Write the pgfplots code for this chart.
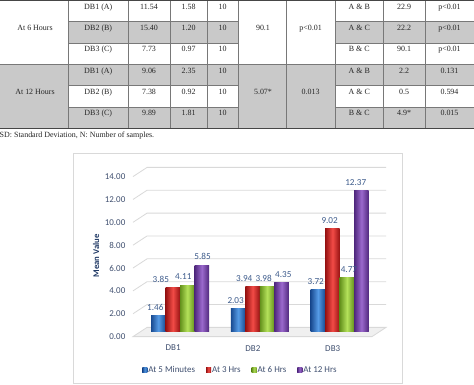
\documentclass[border=0pt]{standalone}
\usepackage{fontspec}
\setmainfont{Liberation Serif}
\newfontfamily\carlito{Carlito}
\usepackage{pgfplots}
\pgfplotsset{compat=1.18}
\definecolor{tgray}{RGB}{201,201,201}
\definecolor{tline}{RGB}{120,120,120}
\definecolor{tdark}{RGB}{70,70,70}
\definecolor{lblc}{RGB}{64,80,112}
\definecolor{datac}{RGB}{62,92,140}
\definecolor{titc}{RGB}{31,56,100}
\definecolor{gridc}{RGB}{217,217,217}
\definecolor{floorc}{RGB}{240,240,240}
\definecolor{bD}{RGB}{25,75,145}\definecolor{bL}{RGB}{85,155,230}\definecolor{bM}{RGB}{46,117,200}
\definecolor{rD}{RGB}{150,18,18}\definecolor{rL}{RGB}{242,75,70}\definecolor{rM}{RGB}{220,45,42}
\definecolor{gD}{RGB}{100,145,28}\definecolor{gL}{RGB}{180,225,90}\definecolor{gM}{RGB}{150,200,60}
\definecolor{pD}{RGB}{80,40,125}\definecolor{pL}{RGB}{155,105,205}\definecolor{pM}{RGB}{125,75,175}
\pgfplotsset{
  bS/.style={draw=none, fill=bM, left color=bD, right color=bD, middle color=bL, bar shift=-21.75bp},
  rS/.style={draw=none, fill=rM, left color=rD, right color=rD, middle color=rL, bar shift=-7.25bp},
  gS/.style={draw=none, fill=gM, left color=gD, right color=gD, middle color=gL, bar shift=7.25bp},
  pS/.style={draw=none, fill=pM, left color=pD, right color=pD, middle color=pL, bar shift=21.75bp},
  lx/.style={every node near coord/.append style={xshift=#1}},
}
\begin{document}
\begin{tikzpicture}
\path[use as bounding box, fill=white] (0,0) rectangle (474bp,385bp);
% ---------------- table ----------------
\begin{scope}[shift={(0bp,385bp)}, x=1bp, y=-1bp,
  cell/.style={inner sep=0pt, text height=5.3bp, text depth=0pt, anchor=center, font=\fontsize{8}{9}\selectfont, text=black!85}]
\fill[tgray] (0,64.5) rectangle (68.3,128.4);
\foreach \a/\b in {21.9/43.2, 64.5/85.8, 107.1/128.4}{
  \fill[tgray] (68.3,\a) rectangle (238,\b);
  \fill[tgray] (335,\a) rectangle (474,\b);
}
\fill[tgray] (238,64.5) rectangle (335,128.4);
\foreach \yy in {21.9,43.2,85.8,107.1}{
  \draw[tline, line width=0.9bp] (68.3,\yy) -- (238,\yy);
  \draw[tline, line width=0.9bp] (335,\yy) -- (474,\yy);
}
\draw[tline, line width=1.1bp] (0,64.5) -- (474,64.5);
\foreach \xx in {68.3,128.3,170,207.3,238,286.3,335,383.3,425}{
  \draw[tline, line width=0.9bp] (\xx,0.5) -- (\xx,128.4);
}
\draw[tdark, line width=1.4bp] (0,0.7) -- (474,0.7);
\draw[tdark, line width=1.1bp] (0,128.4) -- (474,128.4);
\foreach \yy/\a/\b/\c/\d/\e/\f/\g in {
 6.6/DB1 (A)/11.54/1.58/10/A \& B/22.9/p<0.01,
 27.9/DB2 (B)/15.40/1.20/10/A \& C/22.2/p<0.01,
 49.2/DB3 (C)/7.73/0.97/10/B \& C/90.1/p<0.01,
 70.5/DB1 (A)/9.06/2.35/10/A \& B/2.2/0.131,
 91.8/DB2 (B)/7.38/0.92/10/A \& C/0.5/0.594,
 113.1/DB3 (C)/9.89/1.81/10/B \& C/4.9*/0.015}{
  \node[cell] at (98.3,\yy) {\a};
  \node[cell] at (149,\yy) {\b};
  \node[cell] at (188.6,\yy) {\c};
  \node[cell] at (222.6,\yy) {\d};
  \node[cell] at (359.2,\yy) {\e};
  \node[cell] at (404.2,\yy) {\f};
  \node[cell] at (449.5,\yy) {\g};
}
\node[cell] at (35,27.9) {At 6 Hours};
\node[cell] at (263,27.9) {90.1};
\node[cell] at (310.7,27.9) {p<0.01};
\node[cell] at (35,91.8) {At 12 Hours};
\node[cell] at (263,91.8) {5.07*};
\node[cell] at (310.7,91.8) {0.013};
\node[cell, anchor=west] at (-0.5,135) {SD: Standard Deviation, N: Number of samples.};
\draw[gridc, line width=0.8bp] (73,383) rectangle (402,153);
\end{scope}
% ---------------- chart ----------------
\begin{axis}[
  at={(133bp,53bp)}, anchor=south west,
  scale only axis, width=253bp, height=160bp,
  xmin=-0.59, xmax=2.58, ymin=0, ymax=14,
  clip=false,
  axis lines*=left, axis line style={draw=none}, tick style={draw=none},
  major tick length=0pt,
  xtick={0,1,2}, xticklabels={DB1,DB2,DB3},
  ytick={0,2,...,14},
  /pgf/number format/.cd, fixed, fixed zerofill, precision=2, assume math mode=true, /pgfplots/.cd,
  ticklabel style={font=\carlito\fontsize{9}{10}\selectfont, text=lblc, inner sep=0pt},
  yticklabel style={anchor=east, xshift=-7.5bp, yshift=-4.6bp},
  xticklabel style={anchor=north, yshift=-13bp, xshift=-7bp},
  ylabel={Mean Value},
  every axis y label/.style={at={(axis description cs:-0.1462,0.475)}, rotate=90, anchor=center,
     font=\carlito\bfseries\fontsize{8.7}{10}\selectfont, text=titc},
  ybar=0pt, bar width=14.5bp,
  nodes near coords,
  every node near coord/.append style={font=\carlito\fontsize{9.2}{10}\selectfont, text=datac,
     inner sep=0pt, anchor=south, yshift=5bp},
  legend columns=4,
  legend style={at={(axis description cs:0.4229,-0.2375)}, anchor=center, draw=none, fill=none,
     font=\carlito\fontsize{9}{10}\selectfont, text=lblc, nodes={inner sep=1bp},
     /tikz/every even column/.append style={column sep=10bp}},
  legend image code/.code={\fill[#1] (0bp,-2.5bp) rectangle (5bp,2.5bp);},
]
\fill[floorc, draw=gridc, line width=0.8bp] ([yshift=-4.6bp]axis cs:-0.59,0) -- ([yshift=4.6bp]axis cs:-0.414,0) -- ([yshift=4.6bp]axis cs:2.58,0) -- ([yshift=-4.6bp]axis cs:2.405,0) -- cycle;
\pgfplotsinvokeforeach{2,4,6,8,10,12,14}{
  \draw[gridc, line width=0.8bp] ([yshift=-4.6bp]axis cs:-0.59,#1) -- ([yshift=4.6bp]axis cs:-0.414,#1) -- ([yshift=4.6bp]axis cs:2.58,#1);
}
% DB1 (legend entries)
\addplot[bS, lx=-3bp] coordinates {(0,1.46)};
\addplot[rS, lx=-12bp] coordinates {(0,3.85)};
\addplot[gS, lx=-4bp] coordinates {(0,4.11)};
\addplot[pS, lx=0.7bp] coordinates {(0,5.85)};
% DB2
\addplot[bS, lx=-2.5bp, forget plot] coordinates {(1,2.03)};
\addplot[rS, lx=-8.4bp, forget plot] coordinates {(1,3.94)};
\addplot[gS, lx=-3.5bp, forget plot] coordinates {(1,3.98)};
\addplot[pS, lx=1.7bp, forget plot] coordinates {(1,4.35)};
% DB3
\addplot[bS, lx=-2.2bp, forget plot] coordinates {(2,3.72)};
\addplot[rS, lx=-2.8bp, forget plot] coordinates {(2,9.02)};
\addplot[gS, lx=2bp, forget plot] coordinates {(2,4.77)};
\addplot[pS, lx=-5.7bp, forget plot] coordinates {(2,12.37)};
\legend{At 5 Minutes, At 3 Hrs, At 6 Hrs, At 12 Hrs}
\end{axis}
\end{tikzpicture}
\end{document}
